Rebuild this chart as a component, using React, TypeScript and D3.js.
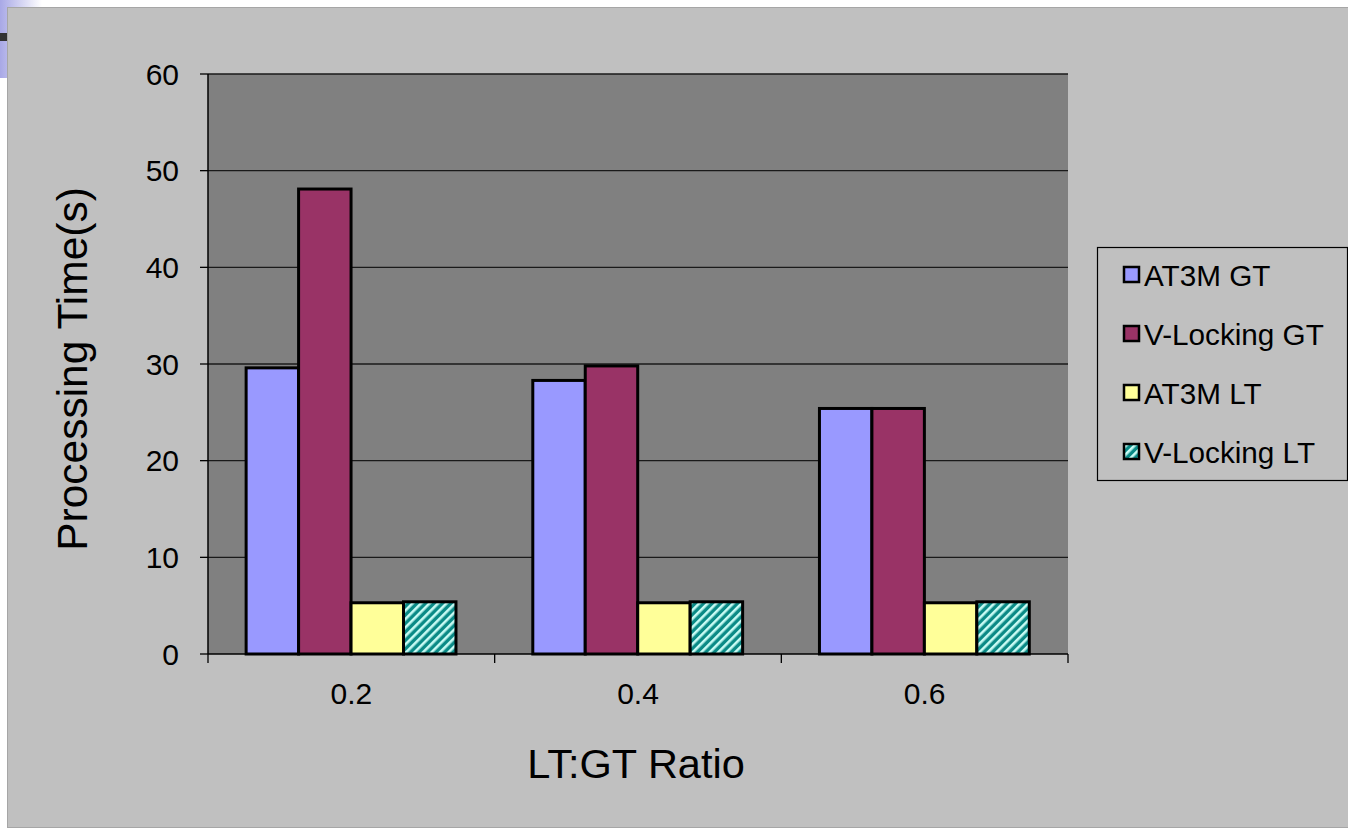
import React from "react";
import * as d3 from "d3";

// Chart data
const categories = ["0.2", "0.4", "0.6"];
const seriesNames = ["AT3M GT", "V-Locking GT", "AT3M LT", "V-Locking LT"];
const at3mGT = [29.6, 28.3, 25.4];
const vLockingGT = [48.1, 29.8, 25.4];
const at3mLT = [5.3, 5.3, 5.3];
const vLockingLT = [5.4, 5.4, 5.4];
const yTicks = [0, 10, 20, 30, 40, 50, 60];

const seriesValues = [at3mGT, vLockingGT, at3mLT, vLockingLT];
const seriesFills = ["#9999ff", "#993366", "#ffff99", "url(#hatch)"];

const W = 1348;
const H = 829;
const FONT = "'Liberation Sans', Arial, Helvetica, sans-serif";

export default function App() {
  const plot = { left: 208, right: 1068, top: 74, bottom: 654 };

  const y = d3.scaleLinear().domain([0, 60]).range([plot.bottom, plot.top]);
  const x0 = d3
    .scaleBand<string>()
    .domain(categories)
    .range([plot.left, plot.right])
    .paddingInner(0)
    .paddingOuter(0);
  const bw = x0.bandwidth();
  const x1 = d3
    .scaleBand<number>()
    .domain(d3.range(seriesNames.length))
    .range([bw * 0.133, bw * 0.865])
    .padding(0);

  const xTickPositions = [...categories.map((c) => x0(c)!), plot.right];

  const legendRowY = [275, 334, 393, 452];

  return (
    <svg
      width={W}
      height={H}
      style={{ position: "absolute", left: 0, top: 0, background: "#ffffff" }}
    >
      <defs>
        <linearGradient id="slideFade" x1="0" y1="0" x2="1" y2="0">
          <stop offset="0" stopColor="#a8a8e6" />
          <stop offset="1" stopColor="#ffffff" />
        </linearGradient>
        <pattern
          id="hatch"
          patternUnits="userSpaceOnUse"
          width="6"
          height="6"
          patternTransform="rotate(45)"
        >
          <rect width="6" height="6" fill="#0a8a86" />
          <rect x="0" y="0" width="2.6" height="6" fill="#c8fbf4" />
        </pattern>
      </defs>

      {/* slide decoration behind the chart panel */}
      <rect x={0} y={0} width={42} height={78} fill="url(#slideFade)" />
      <rect x={0} y={33} width={8} height={8} fill="#333333" />

      {/* chart panel */}
      <rect
        x={7.5}
        y={7.5}
        width={W}
        height={820}
        fill="#c0c0c0"
        stroke="#a6a6a6"
        strokeWidth={1}
      />

      {/* plot area */}
      <rect
        x={plot.left}
        y={plot.top}
        width={plot.right - plot.left}
        height={plot.bottom - plot.top}
        fill="#808080"
      />

      {/* gridlines */}
      {yTicks
        .filter((t) => t > 0)
        .map((t) => (
          <line
            key={"g" + t}
            x1={plot.left}
            x2={plot.right}
            y1={y(t)}
            y2={y(t)}
            stroke="#1a1a1a"
            strokeWidth={1.3}
          />
        ))}

      {/* bars */}
      {categories.map((c, ci) => (
        <g key={c} transform={`translate(${x0(c)},0)`}>
          {seriesValues.map((vals, si) => (
            <rect
              key={si}
              x={x1(si)}
              y={y(vals[ci])}
              width={x1.bandwidth()}
              height={y(0) - y(vals[ci])}
              fill={seriesFills[si]}
              stroke="#000"
              strokeWidth={3}
            />
          ))}
        </g>
      ))}

      {/* axes */}
      <line
        x1={plot.left}
        x2={plot.left}
        y1={plot.top}
        y2={plot.bottom}
        stroke="#000"
        strokeWidth={1.5}
      />
      <line
        x1={plot.left}
        x2={plot.right}
        y1={plot.bottom}
        y2={plot.bottom}
        stroke="#000"
        strokeWidth={1.5}
      />
      {yTicks.map((t) => (
        <g key={"yt" + t}>
          <line
            x1={plot.left - 8}
            x2={plot.left}
            y1={y(t)}
            y2={y(t)}
            stroke="#000"
            strokeWidth={1.3}
          />
          <text
            x={179}
            y={y(t)}
            dy="0.35em"
            textAnchor="end"
            fontFamily={FONT}
            fontSize={30}
            fill="#000"
          >
            {t}
          </text>
        </g>
      ))}
      {xTickPositions.map((px, i) => (
        <line
          key={"xt" + i}
          x1={px}
          x2={px}
          y1={plot.bottom}
          y2={plot.bottom + 9}
          stroke="#000"
          strokeWidth={1.3}
        />
      ))}
      {categories.map((c) => (
        <text
          key={"xl" + c}
          x={x0(c)! + bw / 2}
          y={704}
          textAnchor="middle"
          fontFamily={FONT}
          fontSize={30}
          fill="#000"
        >
          {c}
        </text>
      ))}

      {/* axis titles */}
      <text
        x={636}
        y={778}
        textAnchor="middle"
        fontFamily={FONT}
        fontSize={41.5}
        fill="#000"
      >
        LT:GT Ratio
      </text>
      <text
        transform={`translate(87,369) rotate(-90)`}
        textAnchor="middle"
        fontFamily={FONT}
        fontSize={42.5}
        fill="#000"
      >
        Processing Time(s)
      </text>

      {/* legend */}
      <rect
        x={1097.5}
        y={247.5}
        width={250}
        height={233}
        fill="#c0c0c0"
        stroke="#000"
        strokeWidth={1.2}
      />
      {seriesNames.map((name, i) => (
        <g key={name}>
          <rect
            x={1124}
            y={legendRowY[i] - 8}
            width={15}
            height={15}
            fill={seriesFills[i]}
            stroke="#000"
            strokeWidth={2.5}
          />
          <text
            x={1144}
            y={legendRowY[i]}
            dy="0.36em"
            fontFamily={FONT}
            fontSize={29.7}
            fill="#000"
          >
            {name}
          </text>
        </g>
      ))}
    </svg>
  );
}
